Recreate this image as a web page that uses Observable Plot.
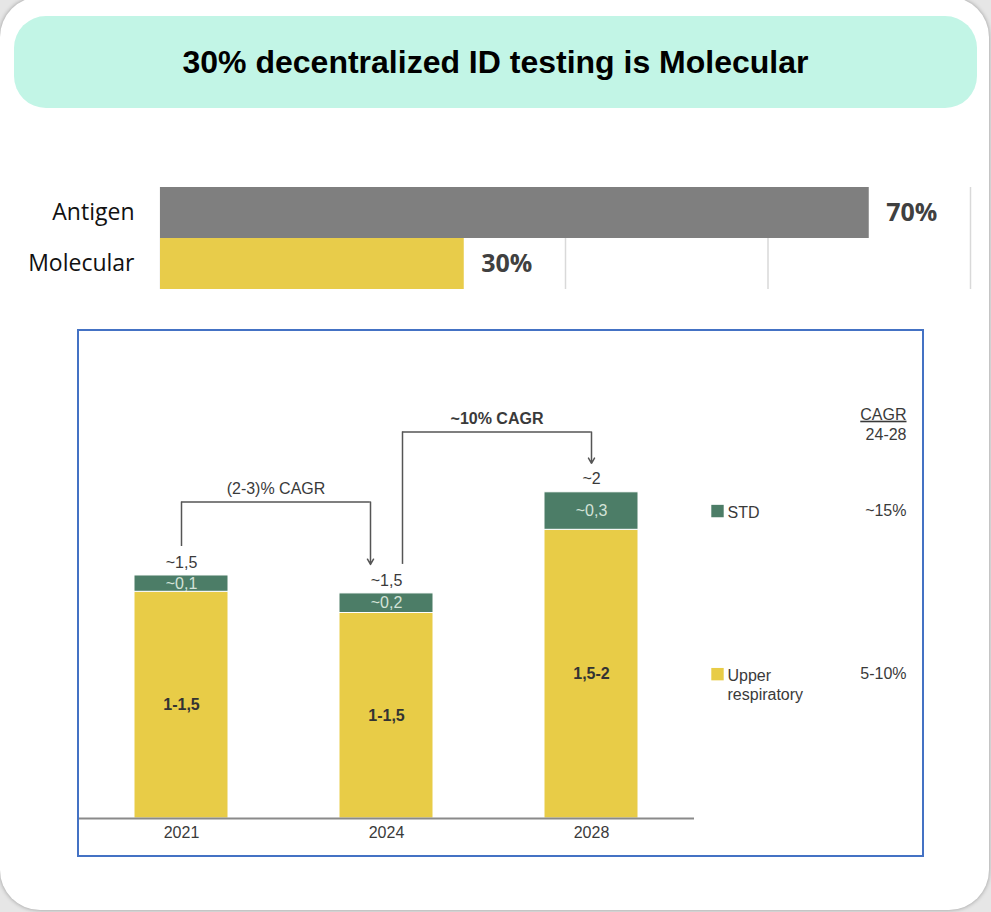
<!DOCTYPE html>
<html>
<head>
<meta charset="utf-8">
<script src="https://cdn.jsdelivr.net/npm/d3@7"></script>
<script src="https://cdn.jsdelivr.net/npm/@observablehq/plot@0.6"></script>
<style>
html, body { margin: 0; padding: 0; }
body { width: 991px; height: 912px; background: #e6e6e6; position: relative; overflow: hidden; font-family: "Liberation Sans", Arial, sans-serif; }
#card { position: absolute; left: 0; top: -3px; width: 989px; height: 913px; border-radius: 40px; background: #fff; box-shadow: 0 0 4px rgba(0,0,0,0.35); }
#banner { position: absolute; left: 14px; top: 16px; width: 963px; height: 92px; border-radius: 32px; background: #C2F5E6; display: flex; align-items: center; justify-content: center; }
#banner h1 { margin: 0; font: bold 32px "Liberation Sans", Arial, sans-serif; color: #000; }
#share { position: absolute; left: 0; top: 180px; }
#box { position: absolute; left: 77px; top: 329px; width: 843px; height: 524px; border: 2px solid #4472C4; background: #fff; }
#box svg, #share svg { display: block; }
</style>
</head>
<body>
<div id="card"></div>
<div id="banner"><h1>30% decentralized ID testing is Molecular</h1></div>
<div id="share"></div>
<div id="box"></div>
<script>
// ---------- data: share of decentralized ID testing ----------
const shareCats = ["Antigen", "Molecular"];
const shareVals = [0.70, 0.30];
const shareLabels = ["70%", "30%"];
const shareGrid = [0, 0.2, 0.4, 0.6, 0.8];

// ---------- data: market size stacked bars ----------
const years = ["2021", "2024", "2028"];
const seriesOrder = ["Upper respiratory", "STD"]; // bottom -> top
const upperValues = [1.39, 1.26, 1.77];
const stdValues = [0.10, 0.12, 0.23];
const upperLabels = ["1-1,5", "1-1,5", "1,5-2"];
const stdLabels = ["~0,1", "~0,2", "~0,3"];
const totalLabels = ["~1,5", "~1,5", "~2"];
const legendNames = ["STD", "Upper\nrespiratory"];
const cagrValues = ["~15%", "5-10%"];
const cagrHeader = "CAGR\n24-28";
const bracketFrom = ["2021", "2024"];
const bracketTo = ["2024", "2028"];
const bracketLabels = ["(2-3)% CAGR", "~10% CAGR"];
const bracketLevels = [1.94, 2.37];

// ---------- styles / layout ----------
const shareColors = ["#7f7f7f", "#E8CC4A"];
const seriesColors = ["#E8CC47", "#4C7D67"];
const TXT = "#3a3a3a";
const LINE = "#555555";
const bracketDx = [[0, -16], [16, 0]];
const bracketWeight = ["normal", "bold"];
const GAP = 29;

// ---------- share chart ----------
const shareData = shareCats.map((c, i) => ({cat: c, value: shareVals[i], label: shareLabels[i]}));
const share = Plot.plot({
  width: 991, height: 115,
  marginLeft: 160, marginRight: 21, marginTop: 7, marginBottom: 6,
  x: {domain: [0, 0.8], axis: null},
  y: {domain: shareCats, padding: 0, label: null, tickSize: 0, tickPadding: 26},
  color: {domain: shareCats, range: shareColors},
  style: {fontFamily: '"Open Sans", sans-serif', fontSize: "23px", color: "#111", background: "transparent", overflow: "visible"},
  marks: [
    Plot.ruleX(shareGrid, {stroke: "#d9d9d9", strokeWidth: 1.5}),
    Plot.barX(shareData, {x: "value", y: "cat", fill: "cat"}),
    Plot.text(shareData, {x: "value", y: "cat", text: "label", textAnchor: "start", dx: 17, fontWeight: "bold", fontSize: 25, fill: "#404040"})
  ]
});
document.getElementById("share").appendChild(share);

// ---------- stacked chart ----------
const W = 843, H = 524, mL = 0, mR = 228, mT = 14, mB = 37;
const xOpts = {type: "band", domain: years, paddingInner: 0.54, paddingOuter: 0.27};
const xs = Plot.scale({x: {...xOpts, range: [mL, W - mR]}});
const bw = xs.bandwidth, step = xs.step;

const rows = years.flatMap((yr, i) => [
  {year: yr, series: seriesOrder[0], value: upperValues[i], label: upperLabels[i]},
  {year: yr, series: seriesOrder[1], value: stdValues[i], label: stdLabels[i]}
]);
const totals = years.map((yr, i) => ({year: yr, total: upperValues[i] + stdValues[i], label: totalLabels[i]}));
const totalOf = Object.fromEntries(totals.map(d => [d.year, d.total]));
const last = years.length - 1;
const legendRows = [
  {series: "STD", name: legendNames[0], cagr: cagrValues[0], y: upperValues[last] + stdValues[last] / 2},
  {series: "Upper respiratory", name: legendNames[1], cagr: cagrValues[1], y: upperValues[last] / 2}
];
const brackets = bracketFrom.map((f, k) => ({
  from: f, to: bracketTo[k], label: bracketLabels[k], level: bracketLevels[k],
  fromTotal: totalOf[f], toTotal: totalOf[bracketTo[k]],
  dxL: bracketDx[k][0], dxR: bracketDx[k][1], weight: bracketWeight[k]
}));

const bracketMarks = brackets.flatMap(b => [
  Plot.ruleX([b], {x: "from", y1: "level", y2: "fromTotal", insetBottom: GAP, dx: b.dxL, stroke: LINE, strokeWidth: 1.5}),
  Plot.ruleY([b], {y: "level", x1: "from", x2: "to", insetLeft: bw / 2 + b.dxL, insetRight: bw / 2 - b.dxR, stroke: LINE, strokeWidth: 1.5}),
  Plot.arrow([b], {x1: "to", x2: "to", y1: "level", y2: "toTotal", insetEnd: GAP, dx: b.dxR, stroke: LINE, strokeWidth: 1.5, headLength: 6}),
  Plot.text([b], {x: "from", y: "level", text: "label", dy: -13, dx: (step + b.dxL + b.dxR) / 2, fontWeight: b.weight, fill: TXT})
]);

const box = Plot.plot({
  width: W, height: H,
  marginLeft: mL, marginRight: mR, marginTop: mT, marginBottom: mB,
  x: {...xOpts, label: null, tickSize: 0, tickPadding: 8},
  y: {domain: [0, 2.9], axis: null},
  color: {domain: seriesOrder, range: seriesColors},
  style: {fontFamily: '"Liberation Sans", Arial, sans-serif', fontSize: "16px", color: TXT, background: "#fff"},
  marks: [
    Plot.barY(rows, Plot.stackY({x: "year", y: "value", fill: "series", stroke: "#fff", strokeWidth: 1})),
    Plot.text(rows, Plot.stackY({x: "year", y: "value", text: d => d.series === "STD" ? d.label : null, fill: "#d4e3d8"})),
    Plot.text(rows, Plot.stackY({x: "year", y: "value", text: d => d.series === "STD" ? null : d.label, fill: "#333", fontWeight: "bold"})),
    Plot.text(totals, {x: "year", y: "total", text: "label", dy: -13, fill: TXT}),
    Plot.ruleY([0], {stroke: "#8a8a8a", strokeWidth: 2}),
    ...bracketMarks,
    Plot.dot(legendRows, {y: "y", fill: "series", symbol: "square", r: 7, frameAnchor: "left", dx: 638}),
    Plot.text(legendRows, {y: "y", text: "name", frameAnchor: "left", dx: 648, textAnchor: "start", lineAnchor: "top", dy: -6, lineHeight: 1.15, fill: TXT}),
    Plot.text(legendRows, {y: "y", text: "cagr", frameAnchor: "left", dx: 827, textAnchor: "end", fill: TXT}),
    Plot.text([cagrHeader], {text: d => d, frameAnchor: "top-left", dx: 827, dy: 60, textAnchor: "end", lineAnchor: "top", lineHeight: 1.25, fill: TXT})
  ]
});
box.querySelectorAll("tspan, text").forEach(el => {
  if (el.textContent === "CAGR") el.style.textDecoration = "underline";
});
document.getElementById("box").appendChild(box);
</script>
</body>
</html>
